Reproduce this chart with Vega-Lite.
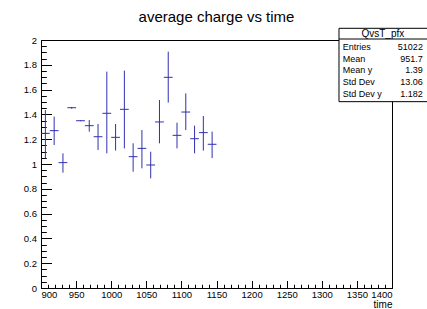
{
  "$schema": "https://vega.github.io/schema/vega-lite/v6.json",
  "width": 351,
  "height": 248,
  "autosize": {"type": "none"},
  "padding": {"left": 41, "top": 40, "right": 35, "bottom": 21},
  "background": "white",
  "config": {
    "view": {"stroke": "black", "strokeWidth": 1},
    "font": "Liberation Sans",
    "axis": {
      "domainColor": "black",
      "tickColor": "black",
      "labelColor": "black",
      "labelFont": "Liberation Sans",
      "labelFontSize": 9.5,
      "titleFont": "Liberation Sans",
      "titleFontWeight": "normal",
      "titleColor": "black",
      "grid": false
    }
  },
  "title": {
    "text": "average charge vs time",
    "font": "Liberation Sans",
    "fontSize": 15,
    "fontWeight": "normal",
    "color": "black",
    "anchor": "middle",
    "baseline": "alphabetic",
    "offset": -9
  },
  "datasets": {
    "pts": [
      {"t": 906.25, "t0": 900, "t1": 912.5, "q": 1.247, "qlo": 1.046, "qhi": 1.435},
      {"t": 918.75, "t0": 912.5, "t1": 925, "q": 1.269, "qlo": 1.153, "qhi": 1.382},
      {"t": 931.25, "t0": 925, "t1": 937.5, "q": 1.011, "qlo": 0.93, "qhi": 1.086},
      {"t": 943.75, "t0": 937.5, "t1": 950, "q": 1.454, "qlo": 1.446, "qhi": 1.46},
      {"t": 956.25, "t0": 950, "t1": 962.5, "q": 1.349, "qlo": 1.345, "qhi": 1.352},
      {"t": 968.75, "t0": 962.5, "t1": 975, "q": 1.309, "qlo": 1.261, "qhi": 1.355},
      {"t": 981.25, "t0": 975, "t1": 987.5, "q": 1.22, "qlo": 1.113, "qhi": 1.323},
      {"t": 993.75, "t0": 987.5, "t1": 1000, "q": 1.409, "qlo": 1.086, "qhi": 1.745},
      {"t": 1006.25, "t0": 1000, "t1": 1012.5, "q": 1.215, "qlo": 1.108, "qhi": 1.323},
      {"t": 1018.75, "t0": 1012.5, "t1": 1025, "q": 1.441, "qlo": 1.126, "qhi": 1.753},
      {"t": 1031.25, "t0": 1025, "t1": 1037.5, "q": 1.059, "qlo": 0.938, "qhi": 1.167},
      {"t": 1043.75, "t0": 1037.5, "t1": 1050, "q": 1.126, "qlo": 0.965, "qhi": 1.274},
      {"t": 1056.25, "t0": 1050, "t1": 1062.5, "q": 0.992, "qlo": 0.884, "qhi": 1.099},
      {"t": 1068.75, "t0": 1062.5, "t1": 1075, "q": 1.339, "qlo": 1.167, "qhi": 1.516},
      {"t": 1081.25, "t0": 1075, "t1": 1087.5, "q": 1.699, "qlo": 1.495, "qhi": 1.906},
      {"t": 1093.75, "t0": 1087.5, "t1": 1100, "q": 1.231, "qlo": 1.126, "qhi": 1.333},
      {"t": 1106.25, "t0": 1100, "t1": 1112.5, "q": 1.419, "qlo": 1.274, "qhi": 1.57},
      {"t": 1118.75, "t0": 1112.5, "t1": 1125, "q": 1.204, "qlo": 1.086, "qhi": 1.309},
      {"t": 1131.25, "t0": 1125, "t1": 1137.5, "q": 1.253, "qlo": 1.108, "qhi": 1.387},
      {"t": 1143.75, "t0": 1137.5, "t1": 1150, "q": 1.159, "qlo": 1.048, "qhi": 1.261}
    ],
    "stats": [
      {"k": 0, "name": "Entries", "value": "51022"},
      {"k": 1, "name": "Mean", "value": "951.7"},
      {"k": 2, "name": "Mean y", "value": "1.39"},
      {"k": 3, "name": "Std Dev", "value": "13.06"},
      {"k": 4, "name": "Std Dev y", "value": "1.182"}
    ],
    "box": [{"title": "QvsT_pfx"}]
  },
  "layer": [
    {
      "data": {"name": "pts"},
      "layer": [
        {
          "mark": {"type": "rule", "color": "#3030b0", "strokeWidth": 1},
          "encoding": {
            "x": {"field": "t0", "type": "quantitative",
              "scale": {"domain": [900, 1400], "nice": false, "zero": false},
              "axis": {"orient": "bottom", "values": [900, 950, 1000, 1050, 1100, 1150, 1200, 1250, 1300, 1350, 1400],
                "format": "d", "tickSize": -7.5, "labelPadding": 9, "title": "time", "titleFontSize": 10,
                "titleAnchor": "end", "titleAlign": "right", "titlePadding": 0}},
            "x2": {"field": "t1"},
            "y": {"field": "q", "type": "quantitative",
              "scale": {"domain": [0, 2], "nice": false},
              "axis": {"orient": "left", "values": [0, 0.2, 0.4, 0.6, 0.8, 1, 1.2, 1.4, 1.6, 1.8, 2],
                "format": "~g", "tickSize": -10.5, "labelPadding": 15, "title": null}}
          }
        },
        {
          "mark": {"type": "rule", "color": "#3030b0", "strokeWidth": 1},
          "encoding": {
            "x": {"field": "t", "type": "quantitative",
              "axis": {"orient": "bottom", "values": [900, 910, 920, 930, 940, 950, 960, 970, 980, 990, 1000, 1010, 1020, 1030, 1040, 1050, 1060, 1070, 1080, 1090, 1100, 1110, 1120, 1130, 1140, 1150, 1160, 1170, 1180, 1190, 1200, 1210, 1220, 1230, 1240, 1250, 1260, 1270, 1280, 1290, 1300, 1310, 1320, 1330, 1340, 1350, 1360, 1370, 1380, 1390, 1400],
                "tickSize": -3.75, "labels": false, "domain": false, "title": null}},
            "y": {"field": "qlo", "type": "quantitative",
              "axis": {"orient": "left", "values": [0, 0.05, 0.1, 0.15, 0.2, 0.25, 0.3, 0.35, 0.4, 0.45, 0.5, 0.55, 0.6, 0.65, 0.7, 0.75, 0.8, 0.85, 0.9, 0.95, 1, 1.05, 1.1, 1.15, 1.2, 1.25, 1.3, 1.35, 1.4, 1.45, 1.5, 1.55, 1.6, 1.65, 1.7, 1.75, 1.8, 1.85, 1.9, 1.95, 2],
                "tickSize": -5.3, "labels": false, "domain": false, "title": null}},
            "y2": {"field": "qhi"}
          }
        }
      ],
      "resolve": {"axis": {"x": "independent", "y": "independent"}}
    },
    {
      "layer": [
        {
          "data": {"name": "box"},
          "mark": {"type": "rect", "fill": "white", "stroke": "black", "strokeWidth": 1},
          "encoding": {
            "x": {"datum": 1324.5, "type": "quantitative", "axis": null},
            "x2": {"datum": 1452},
            "y": {"datum": -1.546, "type": "quantitative", "axis": null,
              "scale": {"domain": [20.28, -0.563], "nice": false, "zero": false}},
            "y2": {"datum": 4.62}
          }
        },
        {
          "data": {"name": "box"},
          "mark": {"type": "rule", "color": "black", "strokeWidth": 1},
          "encoding": {
            "x": {"datum": 1324.5, "type": "quantitative", "axis": null},
            "x2": {"datum": 1452},
            "y": {"datum": -0.647, "type": "quantitative", "axis": null}
          }
        },
        {
          "data": {"name": "box"},
          "mark": {"type": "text", "font": "Liberation Sans", "fontSize": 10, "align": "center", "baseline": "middle", "color": "black"},
          "encoding": {
            "x": {"datum": 1387, "type": "quantitative", "axis": null},
            "y": {"datum": -1.1, "type": "quantitative", "axis": null},
            "text": {"field": "title"}
          }
        },
        {
          "data": {"name": "stats"},
          "mark": {"type": "text", "font": "Liberation Sans", "fontSize": 9, "align": "left", "baseline": "middle", "color": "black"},
          "encoding": {
            "x": {"datum": 1330, "type": "quantitative", "axis": null},
            "y": {"field": "k", "type": "quantitative", "axis": null},
            "text": {"field": "name"}
          }
        },
        {
          "data": {"name": "stats"},
          "mark": {"type": "text", "font": "Liberation Sans", "fontSize": 9, "align": "right", "baseline": "middle", "color": "black"},
          "encoding": {
            "x": {"datum": 1444, "type": "quantitative", "axis": null},
            "y": {"field": "k", "type": "quantitative", "axis": null},
            "text": {"field": "value"}
          }
        }
      ]
    }
  ],
  "resolve": {"scale": {"y": "independent"}, "axis": {"x": "independent", "y": "independent"}}
}
